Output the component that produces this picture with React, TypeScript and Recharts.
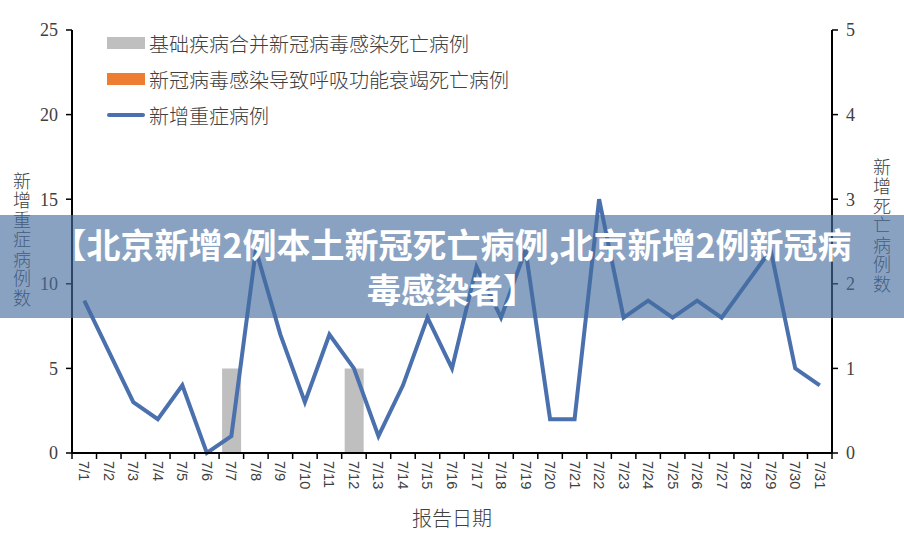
import React from 'react';
import { ComposedChart, Bar, Line, XAxis, YAxis } from 'recharts';

const dates = ['7/1','7/2','7/3','7/4','7/5','7/6','7/7','7/8','7/9','7/10','7/11','7/12','7/13','7/14','7/15','7/16','7/17','7/18','7/19','7/20','7/21','7/22','7/23','7/24','7/25','7/26','7/27','7/28','7/29','7/30','7/31'];
const severeCases = [9,6,3,2,4,0,1,12,7,3,7,5,1,4,8,5,11,8,12,2,2,15,8,9,8,9,8,10,12,5,4];
const deathsUnderlying = [0,0,0,0,0,0,1,0,0,0,0,1,0,0,0,0,0,0,0,0,0,0,0,0,0,0,0,0,0,0,0];
const deathsRespiratory = [0,0,0,0,0,0,0,0,0,0,0,0,0,0,0,0,0,0,0,0,0,0,0,0,0,0,0,0,0,0,0];
const leftTicks = [0,5,10,15,20,25];
const rightTicks = [0,1,2,3,4,5];

const seriesNames = ['基础疾病合并新冠病毒感染死亡病例','新冠病毒感染导致呼吸功能衰竭死亡病例','新增重症病例'];
const leftTitle = '新增重症病例数';
const rightTitle = '新增死亡病例数';
const xTitle = '报告日期';
const bannerLine1 = '【北京新增2例本土新冠死亡病例,北京新增2例新冠病';
const bannerLine2 = '毒感染者】';

const data = dates.map((d, i) => ({
  date: d,
  underlying: deathsUnderlying[i],
  respiratory: deathsRespiratory[i],
  severe: severeCases[i],
}));

const W = 904, H = 534;
const ML = 72, MR = 72, MT = 30, XH = 81;
const band = (W - ML - MR) / dates.length;
const serif = '"Liberation Serif", "DejaVu Serif", serif';
const cjk = '"Noto Sans CJK SC", sans-serif';

const XTick = (props: any) => {
  const { x, y, payload, index } = props;
  return (
    <g>
      <line x1={x - band / 2} x2={x - band / 2} y1={y} y2={y + 6} stroke="#000" strokeWidth={1.5} />
      {index === dates.length - 1 && (
        <line x1={x + band / 2} x2={x + band / 2} y1={y} y2={y + 6} stroke="#000" strokeWidth={1.5} />
      )}
      <text x={x} y={y + 8} transform={`rotate(90 ${x} ${y + 8})`} textAnchor="start" dominantBaseline="central"
        fontFamily='"Liberation Sans", sans-serif' fontSize={14.5} fill="#404040">{payload.value}</text>
    </g>
  );
};

const VertLabel = (text: string, cx: number, top: number) => () => (
  <text x={cx} y={top} style={{ writingMode: 'vertical-rl' as any, letterSpacing: 1.5 }}
    fontFamily={cjk} fontWeight={300} fontSize={18} fill="#404040">{text}</text>
);

const legendRow = (swatch: React.ReactNode, label: string) => (
  <div style={{ display: 'flex', alignItems: 'center', height: 36 }}>
    {swatch}
    <span>{label}</span>
  </div>
);

export default function App() {
  return (
    <div style={{ position: 'fixed', left: 0, top: 0, width: W, height: H, background: '#fff' }}>
      <ComposedChart width={W} height={H} data={data} margin={{ top: MT, right: 0, bottom: 0, left: 0 }} barGap={0}>
        <XAxis dataKey="date" height={XH} tickLine={false} tickSize={0} tickMargin={0} interval={0}
          axisLine={{ stroke: '#000', strokeWidth: 2 }} tick={<XTick />}
          label={{ value: xTitle, position: 'insideBottom', offset: 8, fontFamily: cjk, fontWeight: 300, fontSize: 20, fill: '#404040' }} />
        <YAxis yAxisId="left" width={ML} domain={[0, 25]} ticks={leftTicks} interval={0}
          axisLine={{ stroke: '#000', strokeWidth: 2 }} tickLine={{ stroke: '#000', strokeWidth: 1.5 }} tickSize={6} tickMargin={8}
          tick={{ fontFamily: serif, fontSize: 18, fill: '#404040' }}
          label={{ content: VertLabel(leftTitle, 22, 172) }} />
        <YAxis yAxisId="right" orientation="right" width={MR} domain={[0, 5]} ticks={rightTicks} interval={0}
          axisLine={{ stroke: '#000', strokeWidth: 2 }} tickLine={{ stroke: '#000', strokeWidth: 1.5 }} tickSize={6} tickMargin={8}
          tick={{ fontFamily: serif, fontSize: 18, fill: '#404040', textAnchor: 'start' }}
          label={{ content: VertLabel(rightTitle, 882, 158) }} />
        <Bar yAxisId="right" dataKey="underlying" name={seriesNames[0]} fill="#bfbfbf" barSize={19} stackId="d" isAnimationActive={false} />
        <Bar yAxisId="right" dataKey="respiratory" name={seriesNames[1]} fill="#ed7d31" barSize={19} stackId="d" isAnimationActive={false} />
        <Line yAxisId="left" type="linear" dataKey="severe" name={seriesNames[2]} stroke="#4a70ad" strokeWidth={4} dot={false} isAnimationActive={false} />
      </ComposedChart>
      <div style={{ position: 'absolute', left: 107, top: 25, fontFamily: cjk, fontWeight: 300, fontSize: 20, color: '#404040' }}>
        {legendRow(<span style={{ display: 'inline-block', width: 38, height: 12, background: '#bfbfbf', marginRight: 4 }} />, seriesNames[0])}
        {legendRow(<span style={{ display: 'inline-block', width: 38, height: 12, background: '#ed7d31', marginRight: 4 }} />, seriesNames[1])}
        {legendRow(<span style={{ display: 'inline-block', width: 38, height: 4, borderRadius: 2, background: '#4a70ad', marginRight: 4 }} />, seriesNames[2])}
      </div>
      <div style={{ position: 'absolute', left: 0, top: 215, width: W, height: 103, background: 'rgba(70,110,160,0.64)',
        color: '#fff', fontFamily: cjk, fontWeight: 700, fontSize: 34, textAlign: 'center', lineHeight: '45px', paddingTop: 6, boxSizing: 'border-box', whiteSpace: 'nowrap' }}>
        <div>{bannerLine1}</div>
        <div>{bannerLine2}</div>
      </div>
    </div>
  );
}
